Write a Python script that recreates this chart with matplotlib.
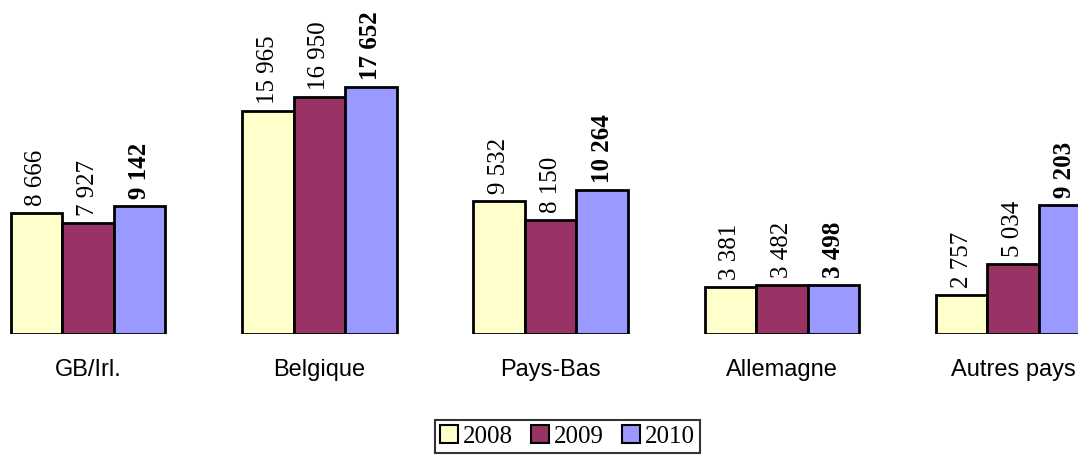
import matplotlib.pyplot as plt
import numpy as np

categories = ["GB/Irl.", "Belgique", "Pays-Bas", "Allemagne", "Autres pays"]
years = ["2008", "2009", "2010"]
v2008 = [8666, 15965, 9532, 3381, 2757]
v2009 = [7927, 16950, 8150, 3482, 5034]
v2010 = [9142, 17652, 10264, 3498, 9203]
colors = ["#FFFFCC", "#993366", "#9999FF"]

fig = plt.figure(figsize=(10.78, 4.55), dpi=100)
ax = fig.add_axes([0, 121 / 455, 1, 334 / 455])

x = np.arange(len(categories))
w = 0.223
series = [v2008, v2009, v2010]
for i, vals in enumerate(series):
    bars = ax.bar(x + (i - 1) * w, vals, w, color=colors[i], edgecolor="black",
                  linewidth=2, label=years[i], zorder=2)
    for b, v in zip(bars, vals):
        txt = "{:,}".format(v).replace(",", " ")
        ax.annotate(txt, (b.get_x() + b.get_width() / 2, b.get_height()),
                    xytext=(0, 5), textcoords="offset points", rotation=90,
                    ha="center", va="bottom", fontsize=18, family="Liberation Serif",
                    fontweight="bold" if i == 2 else "normal", annotation_clip=False)

ax.set_xlim(-88 / 231.3, (1078 - 88) / 231.3)
ax.set_ylim(0, 334 / (247 / 17652))
ax.set_xticks(x)
ax.set_xticklabels(categories, fontsize=17, family="Liberation Sans")
ax.tick_params(axis="x", length=0, pad=18)
ax.set_yticks([])
for s in ax.spines.values():
    s.set_visible(False)

leg = fig.legend(loc="lower center", bbox_to_anchor=(0.5264, 0.005), ncol=3,
                 prop={"family": "Liberation Serif", "size": 18}, frameon=True,
                 fancybox=False, handlelength=0.7, handleheight=0.7,
                 handletextpad=0.2, columnspacing=0.75, borderpad=0.2,
                 borderaxespad=0)
leg.get_frame().set_edgecolor("black")
leg.get_frame().set_linewidth(1.5)
for h in leg.legend_handles:
    h.set_linewidth(1.5)

fig.savefig("out.png", dpi=100)
